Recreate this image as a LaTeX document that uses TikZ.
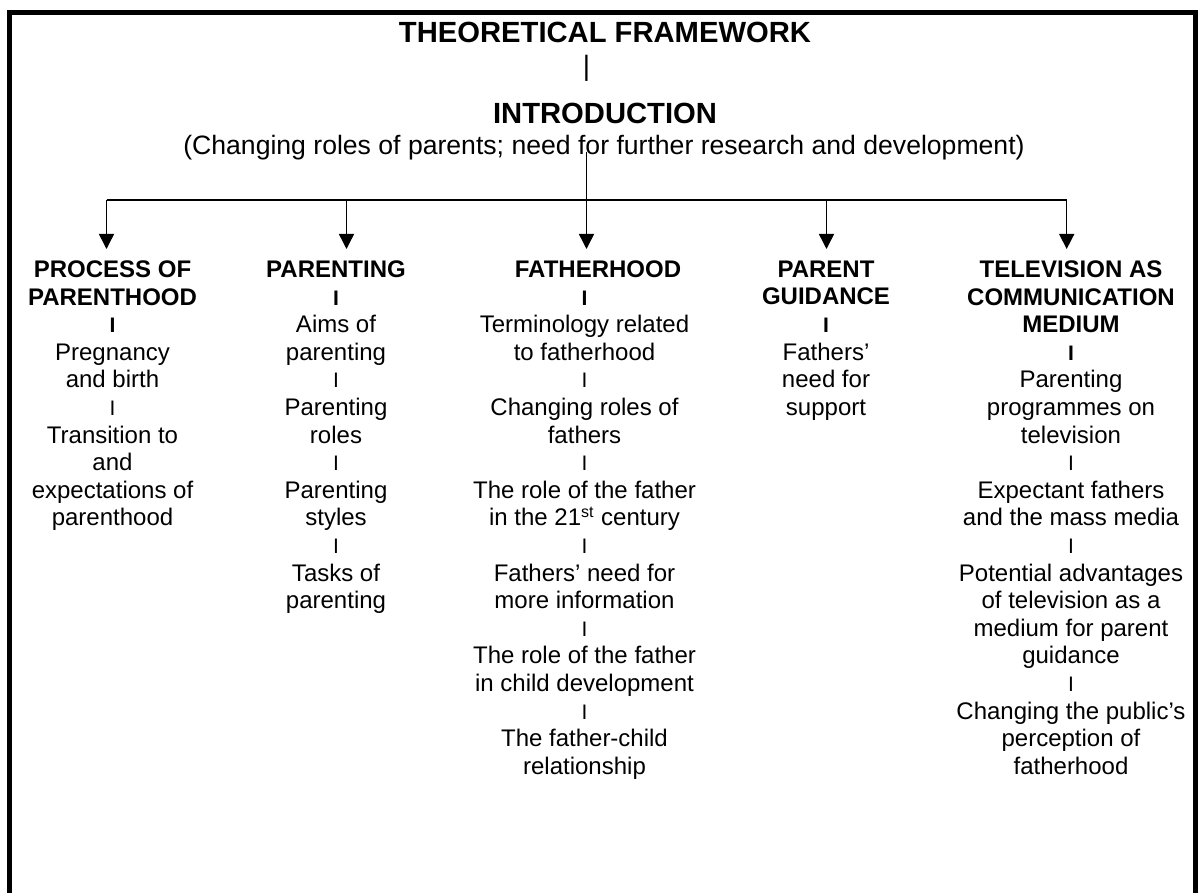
\documentclass[tikz,border=0pt]{standalone}
\usepackage{fontspec}
\setmainfont{Liberation Sans}
\usetikzlibrary{arrows.meta}

\tikzset{every picture/.style={line width=0.75pt}}
\tikzset{
  colhead/.style={anchor=north, inner xsep=0pt, inner ysep=5.5pt, align=center, font=\fontsize{12}{13.8}\selectfont},
  toptext/.style={anchor=base, inner sep=0.75pt},
  downarrow/.style={-{Triangle[length=7.5pt,width=7.5pt]}},
}
\newcommand{\sepI}{{\fontsize{10.5}{13.8}\selectfont I}}

\begin{document}
\begin{tikzpicture}[x=0.5pt,y=0.5pt,yscale=-1,xscale=1]
		\useasboundingbox (0,0) rectangle (1200,893);

		%Shape: Frame (open at the bottom)
		\draw [line width=2.75pt] (9.7,893) -- (9.7,12.3) -- (1195.5,12.3) -- (1195.5,893) ;

		% Text Node
		\node [toptext, font=\fontsize{14.6}{16}\selectfont\bfseries] (title) at (605,42.7) {THEORETICAL FRAMEWORK};
		% Text Node
		\node [toptext, font=\fontsize{14}{16}\selectfont] (bar) at (586.5,75.8) {|};
		% Text Node
		\node [toptext, font=\fontsize{14.6}{16}\selectfont\bfseries] (intro) at (605,123.3) {INTRODUCTION};
		% Text Node
		\node [toptext, font=\fontsize{13.3}{15}\selectfont] (sub) at (604,155) {(Changing roles of parents; need for further research and development)};

		%Straight Lines
		\coordinate (stem) at (586.5,151.7);
		\coordinate (b1) at (106.5,200);
		\coordinate (b2) at (346.5,200);
		\coordinate (b3) at (586.5,200);
		\coordinate (b4) at (826.5,200);
		\coordinate (b5) at (1066.7,200);
		\draw (stem) -- (b3) ;
		\draw [line width=1pt] (b1) -- (b5) ;

		% Text Node
		\node [colhead] (c1) at (112.5,249) {\textbf{PROCESS OF}\\\textbf{PARENTHOOD}\\\textbf{\sepI}\\Pregnancy\\and birth\\\sepI\\Transition to\\and\\expectations of\\parenthood};
		% Text Node
		\node [colhead] (c2) at (336,249) {\textbf{PARENTING}\\\textbf{\sepI}\\Aims of\\parenting\\\sepI\\Parenting\\roles\\\sepI\\Parenting\\styles\\\sepI\\Tasks of\\parenting};
		% Text Node
		\node [colhead] (c3) at (584.5,249) {\hspace*{13.5pt}\textbf{FATHERHOOD}\\\textbf{\sepI}\\Terminology related\\to fatherhood\\\sepI\\Changing roles of\\fathers\\\sepI\\The role of the father\\in the 21\textsuperscript{st} century\\\sepI\\Fathers' need for\\more information\\\sepI\\The role of the father\\in child development\\\sepI\\The father-child\\relationship};
		% Text Node
		\node [colhead] (c4) at (826,249) {\textbf{PARENT}\\\textbf{GUIDANCE}\\\textbf{\sepI}\\Fathers'\\need for\\support};
		% Text Node
		\node [colhead] (c5) at (1071,249) {\textbf{TELEVISION AS}\\\textbf{COMMUNICATION}\\\textbf{MEDIUM}\\\textbf{\sepI}\\Parenting\\programmes on\\television\\\sepI\\Expectant fathers\\and the mass media\\\sepI\\Potential advantages\\of television as a\\medium for parent\\guidance\\\sepI\\Changing the public's\\perception of\\fatherhood};

		%Arrows
		\foreach \i in {1,...,5}
		\draw [downarrow] (b\i) -- (b\i |- c\i.north) ;

\end{tikzpicture}
\end{document}
